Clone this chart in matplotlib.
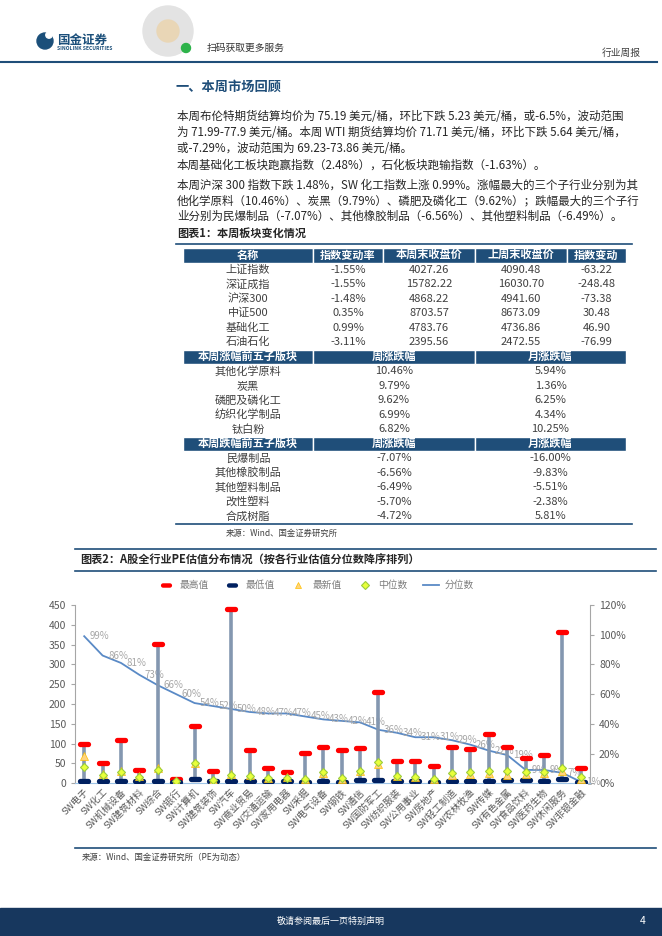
import numpy as np
import matplotlib.pyplot as plt
from matplotlib.path import Path
from matplotlib.lines import Line2D
from matplotlib.patches import Rectangle, Circle

plt.rcParams['font.family'] = ['Noto Sans CJK SC', 'DejaVu Sans']
plt.rcParams['axes.unicode_minus'] = False

# ---------------- data ----------------
industries = ['SW电子', 'SW化工', 'SW机械设备', 'SW建筑材料', 'SW综合', 'SW银行',
              'SW计算机', 'SW建筑装饰', 'SW汽车', 'SW商业贸易', 'SW交通运输',
              'SW家用电器', 'SW采掘', 'SW电气设备', 'SW钢铁', 'SW通信', 'SW国防军工',
              'SW纺织服装', 'SW公用事业', 'SW房地产', 'SW轻工制造', 'SW农林牧渔',
              'SW传媒', 'SW有色金属', 'SW食品饮料', 'SW医药生物', 'SW休闲服务', 'SW非银金融']
pe_max = [100, 52, 109, 34, 351, 11, 145, 31, 441, 85, 39, 29, 77, 92, 84, 90,
          231, 56, 57, 43, 92, 87, 124, 92, 63, 71, 381, 38]
pe_min = [6, 5, 7, 5, 7, 4, 10, 5, 7, 5, 5, 6, 4, 7, 4, 9,
          9, 6, 6, 4, 7, 7, 7, 8, 9, 7, 10, 4]
pe_latest = [70, 24, 32, 18, 38, 6, 52, 9, 24, 20, 14, 15, 12, 26, 12, 30,
             49, 18, 16, 10, 22, 24, 26, 22, 24, 25, 32, 10]
pe_median = [40, 21, 28, 17, 34, 6, 50, 8, 21, 19, 13, 14, 11, 28, 13, 31,
             55, 18, 17, 10, 25, 29, 31, 31, 28, 29, 38, 15]
pe_pct = [99, 86, 81, 73, 66, 60, 54, 52, 50, 48, 47, 47, 45, 43, 42, 41,
          36, 34, 31, 31, 29, 26, 22, 19, 9, 9, 7, 1]

table_cols = ['名称', '指数变动率', '本周末收盘价', '上周末收盘价', '指数变动']
index_names = ['上证指数', '深证成指', '沪深300', '中证500', '基础化工', '石油石化']
index_chg_rate = ['-1.55%', '-1.55%', '-1.48%', '0.35%', '0.99%', '-3.11%']
close_this_week = ['4027.26', '15782.22', '4868.22', '8703.57', '4783.76', '2395.56']
close_last_week = ['4090.48', '16030.70', '4941.60', '8673.09', '4736.86', '2472.55']
index_chg = ['-63.22', '-248.48', '-73.38', '30.48', '46.90', '-76.99']

top5_names = ['其他化学原料', '炭黑', '磷肥及磷化工', '纺织化学制品', '钛白粉']
top5_week = ['10.46%', '9.79%', '9.62%', '6.99%', '6.82%']
top5_month = ['5.94%', '1.36%', '6.25%', '4.34%', '10.25%']
bottom5_names = ['民爆制品', '其他橡胶制品', '其他塑料制品', '改性塑料', '合成树脂']
bottom5_week = ['-7.07%', '-6.56%', '-6.49%', '-5.70%', '-4.72%']
bottom5_month = ['-16.00%', '-9.83%', '-5.51%', '-2.38%', '5.81%']

para_lines = [
    '本周布伦特期货结算均价为 75.19 美元/桶，环比下跌 5.23 美元/桶，或-6.5%，波动范围',
    '为 71.99-77.9 美元/桶。本周 WTI 期货结算均价 71.71 美元/桶，环比下跌 5.64 美元/桶，',
    '或-7.29%，波动范围为 69.23-73.86 美元/桶。',
    '本周基础化工板块跑赢指数（2.48%），石化板块跑输指数（-1.63%）。',
    '本周沪深 300 指数下跌 1.48%，SW 化工指数上涨 0.99%。涨幅最大的三个子行业分别为其',
    '他化学原料（10.46%）、炭黑（9.79%）、磷肥及磷化工（9.62%）；跌幅最大的三个子行',
    '业分别为民爆制品（-7.07%）、其他橡胶制品（-6.56%）、其他塑料制品（-6.49%）。',
]
para_y = [117, 132.5, 148, 165, 185, 200.5, 216]

DARK = '#1F4E79'
TXT = '#404040'

fig = plt.figure(figsize=(6.62, 9.36), dpi=100)
page = fig.add_axes([0, 0, 1, 1])
page.set_xlim(0, 662)
page.set_ylim(936, 0)
page.axis('off')

# ---------------- header ----------------
page.add_patch(Circle((45, 41), 8, color='#1B4F7A'))
page.add_patch(Circle((49, 35), 3.2, color='white'))
page.text(57, 40, '国金证券', fontsize=9, fontweight='bold', color='#1B4F7A', va='center')
page.text(57, 48.5, 'SINOLINK SECURITIES', fontsize=3.6, fontweight='bold', color='#1B4F7A', va='center')
page.add_patch(Circle((168, 31), 25, color='#E3E3E3'))
page.add_patch(Circle((168, 31), 11, color='#E9D6B6'))
page.add_patch(Circle((186, 48), 4.5, color='#2DB34A'))
page.text(207, 48, '扫码获取更多服务', fontsize=7, color='#333333', va='center')
page.text(641, 53, '行业周报', fontsize=7, color=TXT, va='center', ha='right')
page.plot([0, 657], [62, 62], color=DARK, lw=1.5)

page.text(175, 87, '一、本周市场回顾', fontsize=9.5, fontweight='bold', color=DARK, va='center')
for s, y in zip(para_lines, para_y):
    page.text(177, y, s, fontsize=8.3, color='#262626', va='center')

# ---------------- table 1 ----------------
page.text(177, 233, '图表1：本周板块变化情况', fontsize=8, fontweight='bold', color='#262626', va='center')
page.plot([176, 632], [244, 244], color=DARK, lw=1.2)

cx = [183, 313, 383, 475, 567, 626]
rh = 14.5
top = 248


def header_row(r, edges, labels):
    y0 = top + r * rh
    for k, lab in enumerate(labels):
        page.add_patch(Rectangle((edges[k], y0), edges[k + 1] - edges[k], rh,
                                 facecolor=DARK, edgecolor='white', lw=1))
        page.text((edges[k] + edges[k + 1]) / 2, y0 + rh / 2, lab, fontsize=8,
                  fontweight='bold', color='white', ha='center', va='center')


def body_row(r, edges, labels):
    y0 = top + r * rh
    for k, lab in enumerate(labels):
        page.text((edges[k] + edges[k + 1]) / 2, y0 + rh / 2, lab, fontsize=8,
                  color=TXT, ha='center', va='center')


header_row(0, cx, table_cols)
for i in range(len(index_names)):
    body_row(1 + i, cx, [index_names[i], index_chg_rate[i], close_this_week[i],
                         close_last_week[i], index_chg[i]])
merged = [cx[0], cx[1], cx[3], cx[5]]
header_row(7, merged, ['本周涨幅前五子版块', '周涨跌幅', '月涨跌幅'])
for i in range(5):
    body_row(8 + i, merged, [top5_names[i], top5_week[i], top5_month[i]])
header_row(13, merged, ['本周跌幅前五子版块', '周涨跌幅', '月涨跌幅'])
for i in range(5):
    body_row(14 + i, merged, [bottom5_names[i], bottom5_week[i], bottom5_month[i]])
page.plot([176, 632], [524, 524], color=DARK, lw=1.2)
page.text(226, 533, '来源：Wind、国金证券研究所', fontsize=6, color=TXT, va='center')

# ---------------- chart 2 frame ----------------
page.plot([75, 656], [548.5, 548.5], color=DARK, lw=1.2)
page.text(80, 559.5, '图表2：A股全行业PE估值分布情况（按各行业估值分位数降序排列）',
          fontsize=8, fontweight='bold', color='#262626', va='center')
page.plot([75, 656], [570.5, 570.5], color=DARK, lw=1.2)
page.plot([75, 656], [848, 848], color=DARK, lw=1.2)
page.text(82, 857, '来源：Wind、国金证券研究所（PE为动态）', fontsize=6, color=TXT, va='center')

# footer
page.add_patch(Rectangle((0, 908), 662, 28, color='#17375E'))
page.text(331, 921, '敬请参阅最后一页特别声明', fontsize=6.5, color='white', ha='center', va='center')
page.text(643, 921, '4', fontsize=7.5, color='white', ha='center', va='center')

# ---------------- chart 2 ----------------
t = np.linspace(-np.pi / 2, np.pi / 2, 12)
verts = np.vstack([np.c_[0.6 + 0.4 * np.cos(t), 0.4 * np.sin(t)],
                   np.c_[-0.6 - 0.4 * np.cos(t), -0.4 * np.sin(t)]])
pill = Path(np.vstack([verts, verts[:1]]), closed=True)

ax = fig.add_axes([75 / 662, 1 - 783.3 / 936, 515 / 662, 178.3 / 936])
x = np.arange(len(industries))
ax.vlines(x, pe_min, pe_max, color='#8497B0', lw=2.6, zorder=2)
ax.plot(x, pe_max, ls='none', marker=pill, ms=9.5, color='#FF0000', mew=0, zorder=3)
ax.plot(x, pe_min, ls='none', marker=pill, ms=9.5, color='#002060', mew=0, zorder=3)
ax.plot(x, pe_latest, ls='none', marker='^', ms=5.5, mfc='#FFD47F', mec='#FFC000', mew=0.5, zorder=4)
ax.plot(x, pe_median, ls='none', marker='D', ms=4.5, mfc='#E8FF3A', mec='#9BCB3C', mew=0.8, zorder=5)
ax.set_xlim(-0.5, len(industries) - 0.5)
ax.set_ylim(0, 450)
ax.set_yticks(range(0, 451, 50))
ax.set_xticks(x)
ax.set_xticklabels(industries, rotation=45, ha='right', rotation_mode='anchor',
                   fontsize=6.8, color='#595959')
ax.tick_params(axis='x', length=0, pad=3)
ax.tick_params(axis='y', labelsize=7.5, labelcolor='#595959', color='#A6A6A6', length=3)
for side in ['top', 'right']:
    ax.spines[side].set_visible(False)
ax.spines['left'].set_color('#A6A6A6')
ax.spines['bottom'].set_color('#9DC3E6')

ax2 = ax.twinx()
pct = np.array(pe_pct) / 100
ax2.plot(x, pct, color='#5A8AC6', lw=1.3, zorder=1)
for i, p in enumerate(pe_pct):
    ax2.annotate(f'{p}%', (i, p / 100), xytext=(4, 0), textcoords='offset points',
                 ha='left', va='center', fontsize=7, color='#A6A6A6')
ax2.set_ylim(0, 1.2)
ax2.set_yticks(np.arange(0, 1.21, 0.2))
ax2.set_yticklabels([f'{int(round(v * 100))}%' for v in np.arange(0, 1.21, 0.2)])
ax2.tick_params(axis='y', labelsize=7.5, labelcolor='#595959', color='#A6A6A6', length=3)
for side in ['top', 'left', 'bottom']:
    ax2.spines[side].set_visible(False)
ax2.spines['right'].set_color('#A6A6A6')
ax.set_zorder(ax2.get_zorder() + 1)
ax.patch.set_visible(False)

handles = [
    Line2D([], [], ls='none', marker=pill, ms=8, color='#FF0000', mew=0),
    Line2D([], [], ls='none', marker=pill, ms=8, color='#002060', mew=0),
    Line2D([], [], ls='none', marker='^', ms=5, mfc='#FFD47F', mec='#FFC000', mew=0.5),
    Line2D([], [], ls='none', marker='D', ms=4, mfc='#E8FF3A', mec='#9BCB3C', mew=0.8),
    Line2D([], [], color='#5A8AC6', lw=1.3),
]
fig.legend(handles, ['最高值', '最低值', '最新值', '中位数', '分位数'],
           loc='center', bbox_to_anchor=(316 / 662, 1 - 585 / 936), ncol=5,
           frameon=False, fontsize=7, labelcolor='#7F7F7F', handlelength=1.6,
           columnspacing=1.6, handletextpad=0.6)

fig.savefig('out.png', dpi=100)
